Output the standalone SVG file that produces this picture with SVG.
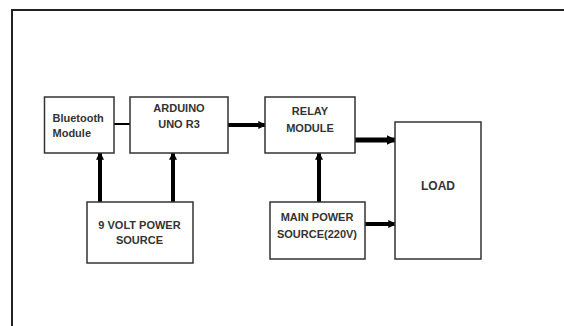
<svg xmlns="http://www.w3.org/2000/svg" width="564" height="326" viewBox="0 0 564 326">
<style>
.box{fill:#fff;stroke:#333;stroke-width:1.5}
.t{font-family:"Liberation Sans",Arial,sans-serif;font-weight:bold;font-size:11px;fill:#333}
.c{stroke:#000;fill:none}
</style>
<defs>
<marker id="ah" viewBox="0 0 6 6" refX="5" refY="3" markerWidth="2" markerHeight="2" orient="auto" markerUnits="strokeWidth">
<path d="M0,0L6,3L0,6Z" fill="#000"/>
</marker>
</defs>
<rect x="0" y="0" width="564" height="326" fill="#fff"/>
<path d="M12,330V10H566" fill="none" stroke="#222" stroke-width="2"/>
<g id="connectors">
<line class="c" x1="114" y1="124" x2="130" y2="124" stroke-width="2"/>
<line class="c" x1="228" y1="125" x2="265" y2="125" stroke-width="4" marker-end="url(#ah)"/>
<line class="c" x1="355" y1="140" x2="395" y2="140" stroke-width="5" marker-end="url(#ah)"/>
<line class="c" x1="365" y1="224" x2="395" y2="224" stroke-width="4" marker-end="url(#ah)"/>
<line class="c" x1="100" y1="202" x2="100" y2="153" stroke-width="4" marker-end="url(#ah)"/>
<line class="c" x1="173" y1="202" x2="173" y2="153" stroke-width="4" marker-end="url(#ah)"/>
<line class="c" x1="319" y1="202" x2="319" y2="153" stroke-width="4" marker-end="url(#ah)"/>
</g>
<g id="bluetooth">
<rect class="box" x="44.5" y="97" width="69.5" height="56"/>
<text class="t" x="52.5" y="121.5">Bluetooth</text>
<text class="t" x="52.5" y="136.5">Module</text>
</g>
<g id="arduino">
<rect class="box" x="130" y="97" width="98" height="56"/>
<text class="t" x="179" y="112" text-anchor="middle">ARDUINO</text>
<text class="t" x="179" y="127.5" text-anchor="middle">UNO R3</text>
</g>
<g id="relay">
<rect class="box" x="265" y="97" width="90" height="56"/>
<text class="t" x="310" y="115" text-anchor="middle">RELAY</text>
<text class="t" x="310" y="132" text-anchor="middle">MODULE</text>
</g>
<g id="load">
<rect class="box" x="395" y="122" width="86" height="137"/>
<text class="t" x="438" y="190" text-anchor="middle" style="font-size:12px">LOAD</text>
</g>
<g id="power9v">
<rect class="box" x="87" y="202" width="106" height="61"/>
<text class="t" x="139.5" y="229" text-anchor="middle">9 VOLT POWER</text>
<text class="t" x="139.5" y="243.5" text-anchor="middle">SOURCE</text>
</g>
<g id="mainpower">
<rect class="box" x="270" y="202" width="95" height="57"/>
<text class="t" x="317" y="221" text-anchor="middle">MAIN POWER</text>
<text class="t" x="317" y="238" text-anchor="middle">SOURCE(220V)</text>
</g>
</svg>
